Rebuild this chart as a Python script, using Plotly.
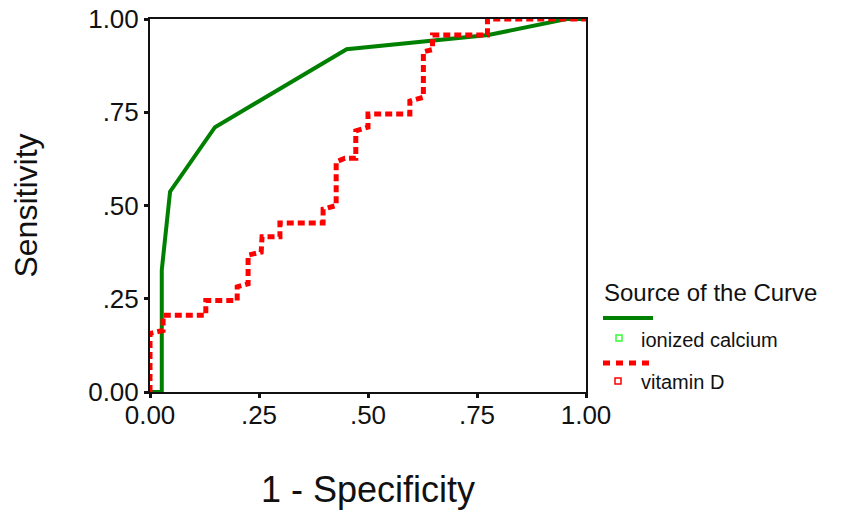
import plotly.graph_objects as go

# ---- data ----
ticks = [0.0, 0.25, 0.5, 0.75, 1.0]
tick_labels = ["0.00", ".25", ".50", ".75", "1.00"]

calcium_fpr = [0.0, 0.027, 0.027, 0.046, 0.149, 0.451, 0.776, 0.955, 1.0]
calcium_tpr = [0.0, 0.0, 0.327, 0.537, 0.710, 0.919, 0.957, 1.0, 1.0]

vitd_fpr = [0.0, 0.0, 0.030, 0.030, 0.128, 0.128, 0.200, 0.200, 0.225, 0.225,
            0.255, 0.257, 0.298, 0.298, 0.397, 0.397, 0.427, 0.427, 0.447, 0.472,
            0.472, 0.500, 0.500, 0.596, 0.596, 0.627, 0.627, 0.648, 0.648, 0.774,
            0.774, 1.0]
vitd_tpr = [0.0, 0.157, 0.165, 0.206, 0.206, 0.245, 0.245, 0.282, 0.290, 0.367,
            0.375, 0.416, 0.416, 0.453, 0.453, 0.490, 0.500, 0.617, 0.627, 0.627,
            0.700, 0.710, 0.745, 0.745, 0.780, 0.790, 0.912, 0.918, 0.957, 0.957,
            1.0, 1.0]

series_names = ["ionized calcium", "vitamin D"]
legend_title = "Source of the Curve"
x_title = "1 - Specificity"
y_title = "Sensitivity"

GREEN = "#008000"
RED = "#ff0000"
FONT = "Liberation Sans, Arial, sans-serif"

W, H = 845, 513
PW, PH = 436, 373          # plot area size in px
L, T = 150, 19
R = W - L - PW
B = H - T - PH

fig = go.Figure()
fig.add_trace(go.Scatter(x=calcium_fpr, y=calcium_tpr, mode="lines", name=series_names[0],
                         line=dict(color=GREEN, width=4), showlegend=False, hoverinfo="skip"))
fig.add_trace(go.Scatter(x=vitd_fpr, y=vitd_tpr, mode="lines", name=series_names[1],
                         line=dict(color=RED, width=5, dash="7px,4px"), showlegend=False,
                         hoverinfo="skip"))

axis_common = dict(
    range=[0, 1], tickmode="array", tickvals=ticks, ticktext=tick_labels,
    showline=True, linecolor="#111", linewidth=2, mirror=True,
    ticks="outside", ticklen=4, tickwidth=3, tickcolor="#111",
    showgrid=False, zeroline=False, automargin=False,
    ticklabeloverflow="allow",
    tickfont=dict(family=FONT, size=26, color="#111"),
)

fig.update_layout(
    template="none",
    width=W, height=H,
    margin=dict(l=L, r=R, t=T, b=B, pad=0),
    paper_bgcolor="white", plot_bgcolor="white",
    font=dict(family=FONT, color="#111"),
    xaxis=dict(**axis_common, ticklabelstandoff=-5,
               title=dict(text=x_title, font=dict(family=FONT, size=36, color="#111"), standoff=48)),
    yaxis=dict(**axis_common,
               title=dict(text=y_title, font=dict(family=FONT, size=32, color="#111"), standoff=41)),
    showlegend=False,
)

# ---- custom SPSS-style legend (paper coordinates derived from pixels) ----
def px(xp):
    return (xp - L) / PW
def py(yp):
    return (T + PH - yp) / PH

fig.add_annotation(x=px(602), y=py(292), xref="paper", yref="paper", text=legend_title,
                   showarrow=False, xanchor="left", yanchor="middle",
                   font=dict(family=FONT, size=24, color="#111"))
# green line sample
fig.add_shape(type="line", xref="paper", yref="paper", x0=px(603), x1=px(653), y0=py(318), y1=py(318),
              line=dict(color=GREEN, width=4))
fig.add_shape(type="rect", xref="paper", yref="paper", xsizemode="pixel", ysizemode="pixel",
              xanchor=px(619), yanchor=py(338), x0=-3, x1=3, y0=-3, y1=3,
              line=dict(color="#33ff33", width=1.5), fillcolor="white")
fig.add_annotation(x=px(639), y=py(340), xref="paper", yref="paper", text=series_names[0],
                   showarrow=False, xanchor="left", yanchor="middle",
                   font=dict(family=FONT, size=20, color="#111"))
# red line sample
fig.add_shape(type="line", xref="paper", yref="paper", x0=px(603), x1=px(653), y0=py(363), y1=py(363),
              line=dict(color=RED, width=5, dash="7px,6px"))
fig.add_shape(type="rect", xref="paper", yref="paper", xsizemode="pixel", ysizemode="pixel",
              xanchor=px(618), yanchor=py(381), x0=-3, x1=3, y0=-3, y1=3,
              line=dict(color=RED, width=1.5), fillcolor="white")
fig.add_annotation(x=px(639), y=py(382), xref="paper", yref="paper", text=series_names[1],
                   showarrow=False, xanchor="left", yanchor="middle",
                   font=dict(family=FONT, size=20, color="#111"))

fig.write_html("out.html", config={"displayModeBar": False},
               post_script="document.body.style.margin='0';")
